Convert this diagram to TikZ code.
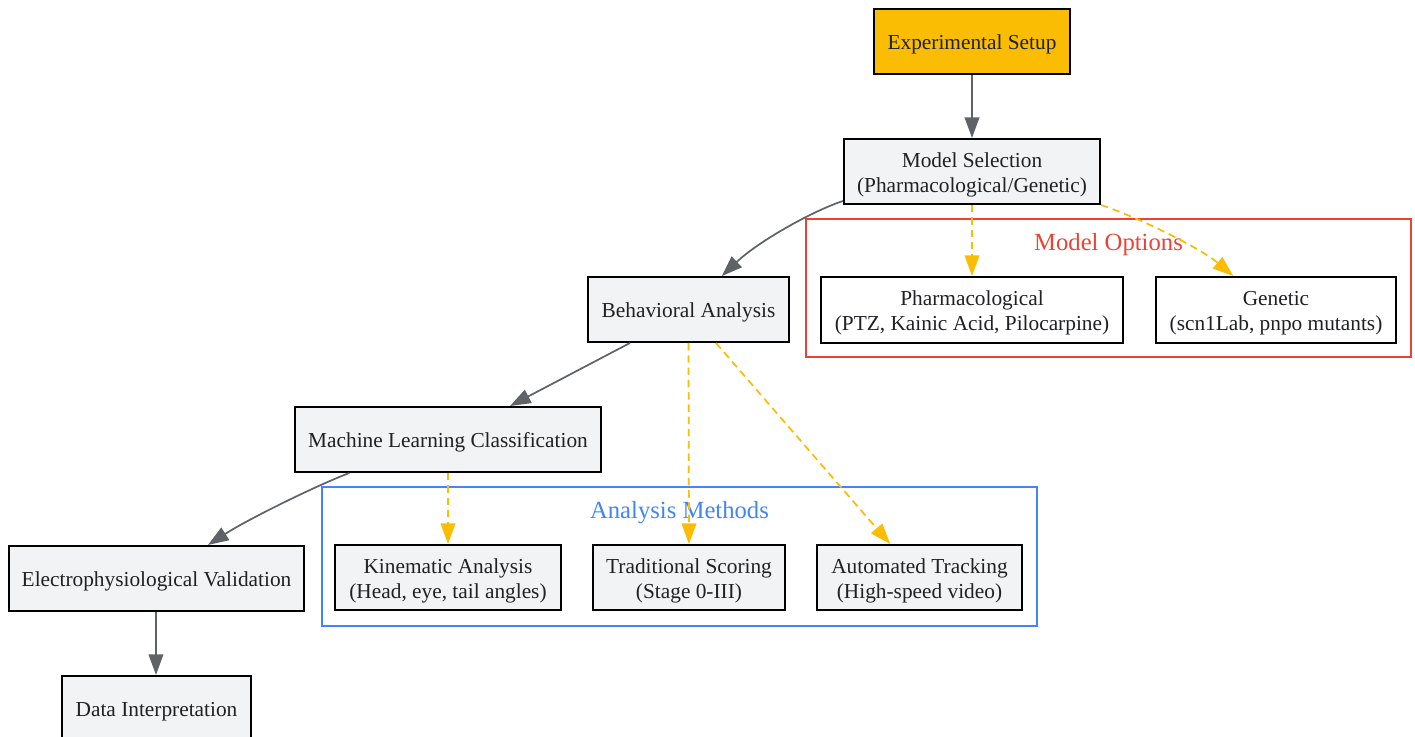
\documentclass[tikz,border=0pt]{standalone}
\usepackage{fontspec}
\setmainfont{Liberation Serif}
\usetikzlibrary{arrows.meta}

\definecolor{boxgray}{HTML}{F1F3F4}
\definecolor{edgegray}{HTML}{5F6368}
\definecolor{gyellow}{HTML}{FBBC04}
\definecolor{gred}{HTML}{EA4335}
\definecolor{gblue}{HTML}{4285F4}
\definecolor{ink}{HTML}{202124}

\tikzset{
    box/.style={shape=rectangle, draw=black, line width=1.5pt, fill=boxgray, text=ink,
        align=center, minimum height=48.75pt, inner xsep=2pt,
        execute at begin node={\rule{0pt}{15.5pt}},
        font=\fontsize{16}{18.75}\selectfont},
    twoline/.style={execute at begin node={\rule{0pt}{34.25pt}}},
    flow/.style={draw=edgegray, line width=1.3pt, -{Triangle[length=15.5pt, width=11pt]}},
    option/.style={draw=gyellow, line width=1.3pt, dash pattern=on 5.6pt off 3.6pt,
        -{Triangle[length=15.5pt, width=11pt]}},
    cluster/.style={line width=1pt},
    clusterlabel/.style={font=\fontsize{18.5}{22}\selectfont},
}

\begin{document}
\begin{tikzpicture}[x=0.75pt, y=-0.75pt]
    \clip (0, 0) rectangle (1415, 737);
    \useasboundingbox (0, 0) rectangle (1415, 737);

    % clusters
    \draw[cluster, draw=gred] (806, 219) rectangle (1411, 357);
    \node (optlabel) at (1108.5, 245) [clusterlabel, text=gred] {Model Options};
    \draw[cluster, draw=gblue] (322, 487) rectangle (1037, 626);
    \node (methlabel) at (679.5, 513) [clusterlabel, text=gblue] {Analysis Methods};

    % nodes
    \node (setup) at (972, 41.5) [box, fill=gyellow, minimum width=147pt] {Experimental Setup};
    \node (model) at (972, 171.5) [box, twoline, minimum width=192pt] {Model Selection\\(Pharmacological/Genetic)};
    \node (pharma) at (972, 310) [box, twoline, fill=white, minimum width=226.5pt, minimum height=49.5pt] {Pharmacological\\(PTZ, Kainic Acid, Pilocarpine)};
    \node (genetic) at (1276, 310) [box, twoline, fill=white, minimum width=180pt, minimum height=49.5pt] {Genetic\\(scn1Lab, pnpo mutants)};
    \node (behav) at (688.5, 309.5) [box, minimum width=150.75pt] {Behavioral Analysis};
    \node (mlclass) at (448, 439.5) [box, minimum width=229.5pt] {Machine Learning Classification};
    \node (kinem) at (448, 577.5) [box, twoline, minimum width=169.5pt] {Kinematic Analysis\\(Head, eye, tail angles)};
    \node (scoring) at (689, 577.5) [box, twoline, minimum width=144pt] {Traditional Scoring\\(Stage 0-III)};
    \node (tracking) at (919.5, 577.5) [box, twoline, minimum width=153.75pt] {Automated Tracking\\(High-speed video)};
    \node (electro) at (156.5, 578.5) [box, minimum width=221.25pt] {Electrophysiological Validation};
    \node (interp) at (156.5, 708.5) [box, minimum width=141.75pt] {Data Interpretation};

    % main flow
    \draw[flow] (setup.south) -- (model.north);
    \draw[flow] ([yshift=3pt]model.south west) .. controls (815, 210) and (760, 240) .. ([xshift=25pt]behav.north);
    \draw[flow] ([xshift=-43.9pt]behav.south) -- ([xshift=46.5pt]mlclass.north);
    \draw[flow] ([xshift=-74pt]mlclass.south) .. controls (320, 484) and (250, 518) .. ([xshift=38.6pt]electro.north);
    \draw[flow] ([xshift=-0.4pt]electro.south) -- ([xshift=-0.4pt]interp.north);

    % options and methods
    \draw[option] (model.south) -- (pharma.north);
    \draw[option] (model.south east) .. controls (1140, 218) and (1200, 248) .. ([xshift=-32pt]genetic.north);
    \draw[option] (behav.south) -- (scoring.north);
    \draw[option] ([xshift=20.6pt]behav.south) -- ([xshift=-22pt]tracking.north);
    \draw[option] (mlclass.south) -- (kinem.north);
\end{tikzpicture}
\end{document}
